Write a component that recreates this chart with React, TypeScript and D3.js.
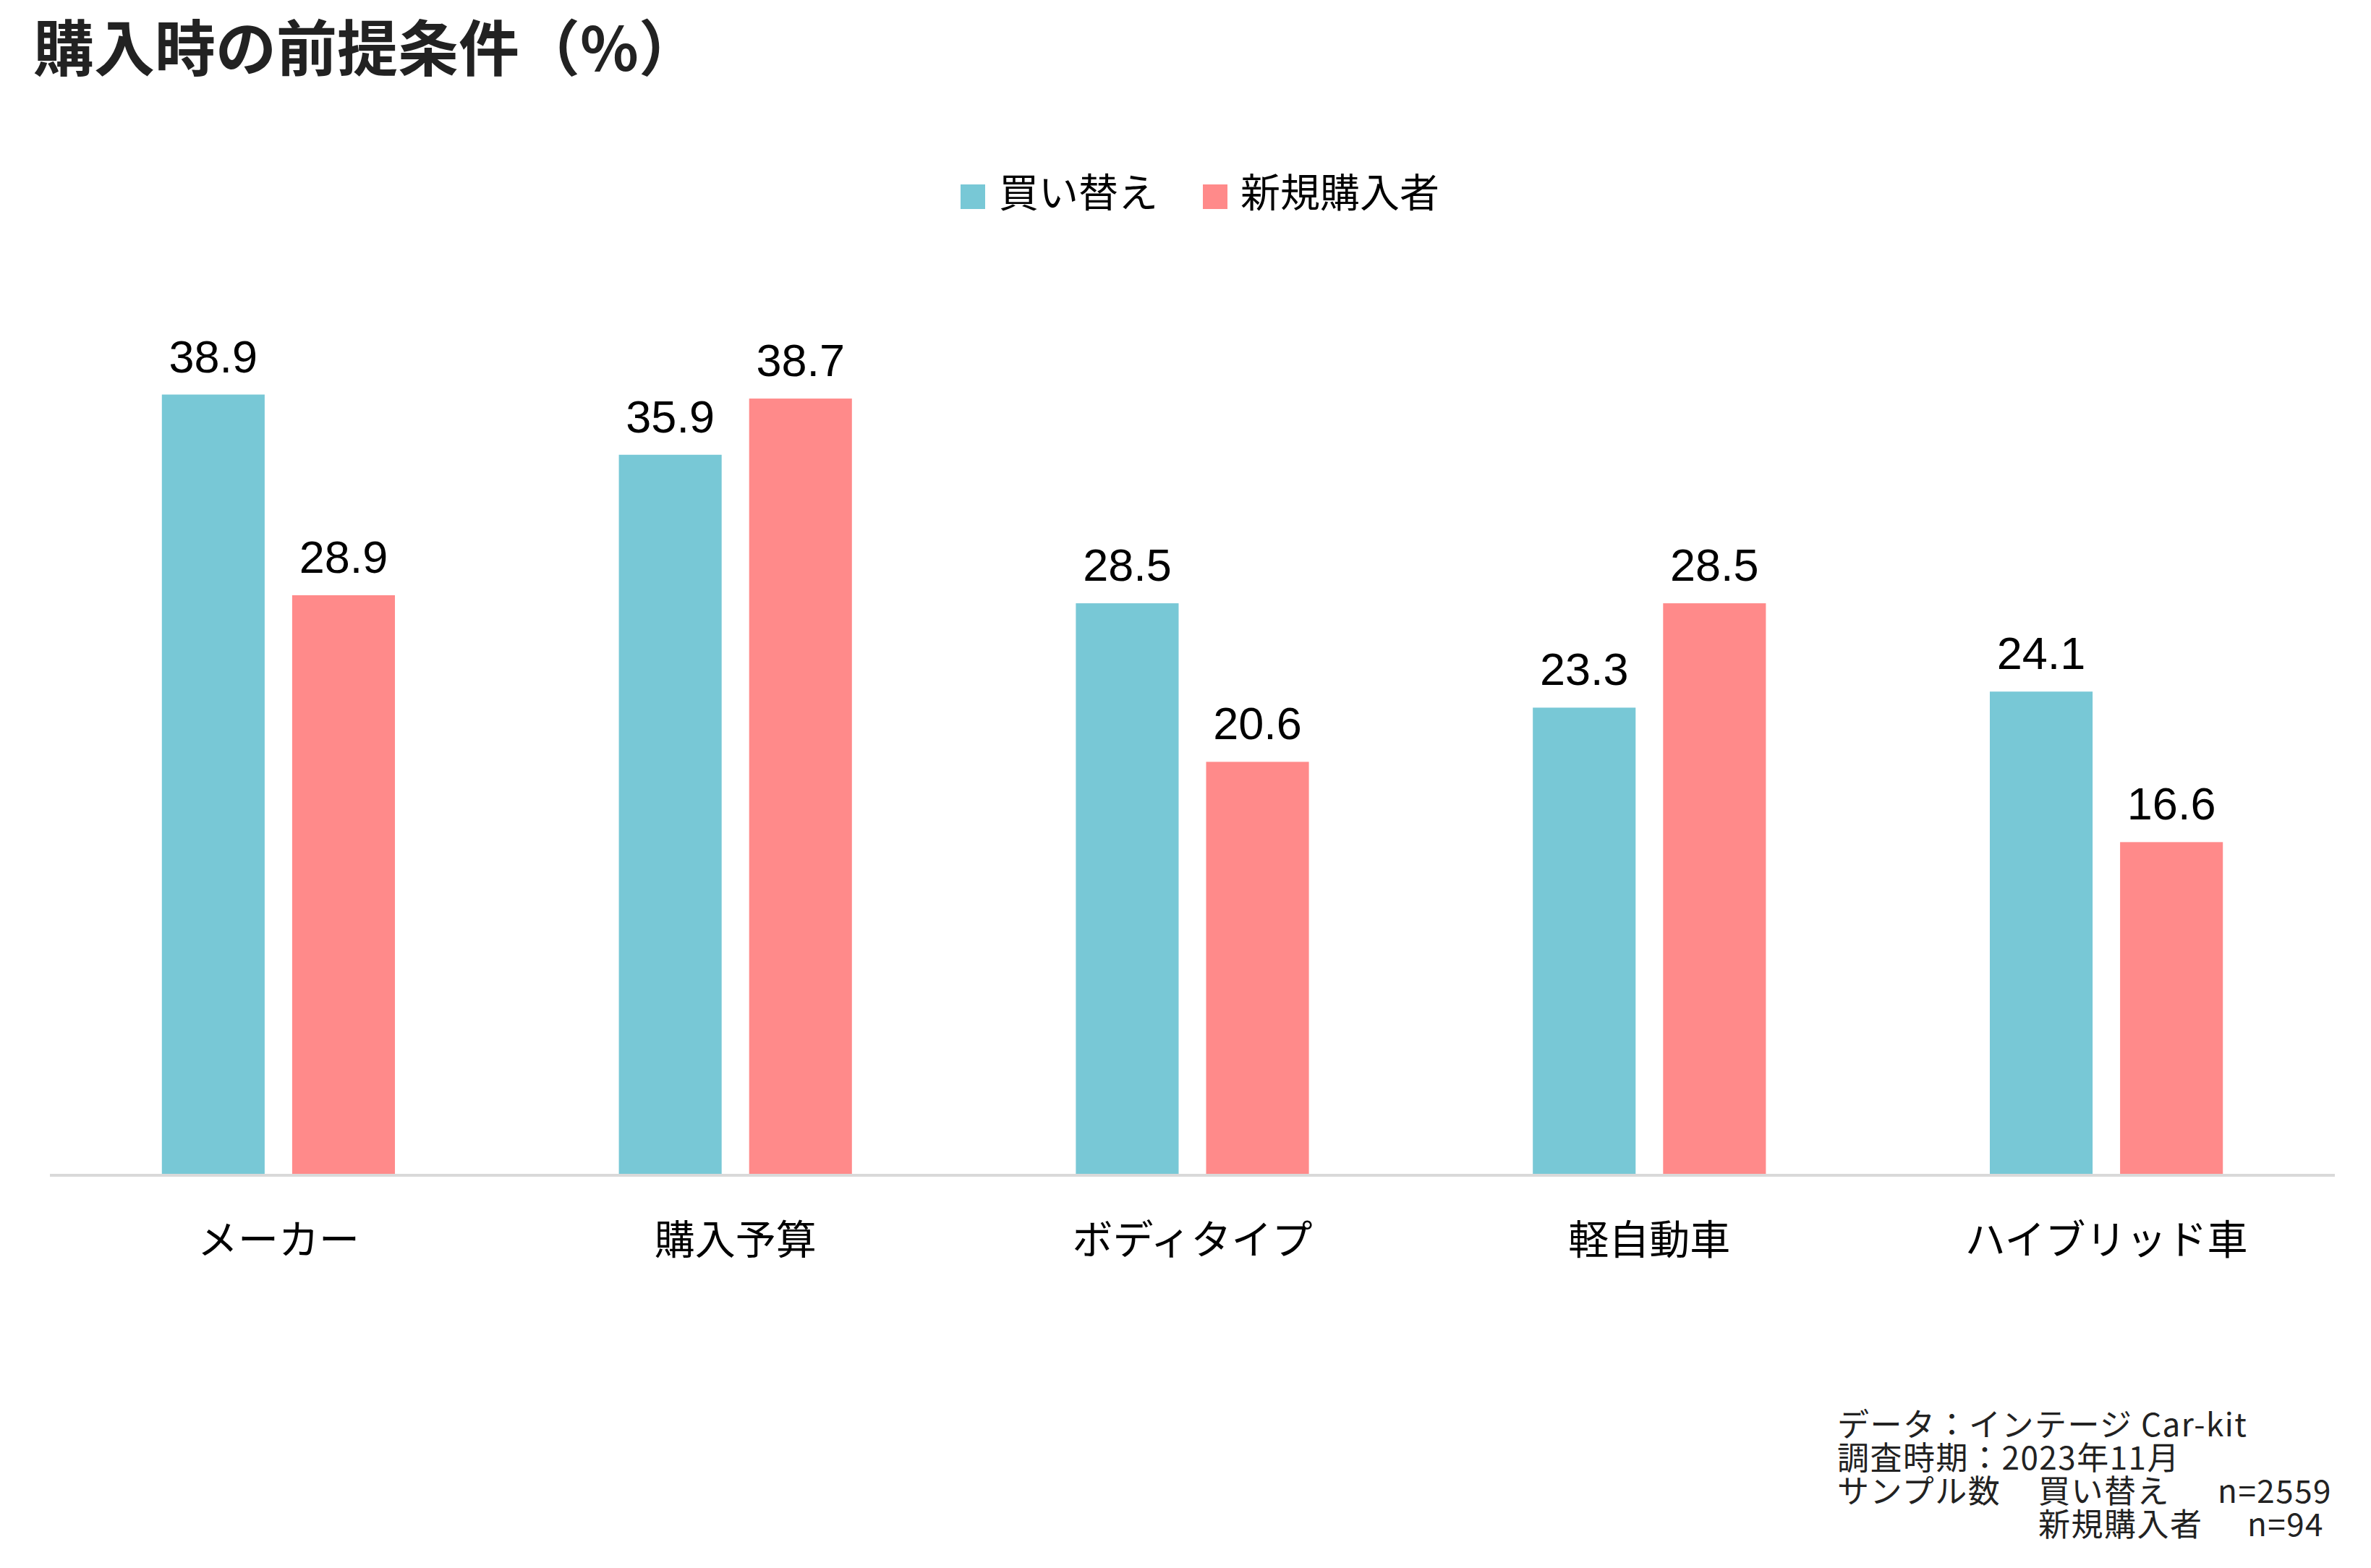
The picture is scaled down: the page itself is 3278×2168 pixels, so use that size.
import * as d3 from 'd3';
import { useEffect } from 'react';

const categories = ['メーカー', '購入予算', 'ボディタイプ', '軽自動車', 'ハイブリッド車'];
const seriesNames = ['買い替え', '新規購入者'];
const kaikae = [38.9, 35.9, 28.5, 23.3, 24.1];
const shinki = [28.9, 38.7, 20.6, 28.5, 16.6];
const colors = ['#78C8D6', '#FF8A8A'];

const title = '購入時の前提条件（%）';
const notes = ['データ：インテージ Car-kit', '調査時期：2023年11月'];
const sampleLabel = 'サンプル数';
const sampleSizes = ['n=2559', 'n=94'];

const width = 3278;
const height = 2168;
const axisY = 1625;
const jpFont = '"Noto Sans CJK JP", "Noto Sans", sans-serif';
const numFont = '"Liberation Sans", Arial, sans-serif';

const x0 = d3.scaleBand<string>()
    .domain(categories)
    .range([69, 3228])
    .paddingInner(0.49)
    .paddingOuter(0.245);

const x1 = d3.scaleBand<string>()
    .domain(seriesNames)
    .range([0, x0.bandwidth()])
    .paddingInner(0.211);

const y = d3.scaleLinear()
    .domain([0, 40])
    .range([axisY, axisY - 40 * 27.75]);

const App = () => {
    useEffect(() => {
        document.body.style.margin = '0';
    }, []);

    const series = [kaikae, shinki];

    return (
        <svg width={width} height={height} style={{ display: 'block', background: '#fff' }}>
            {/* title */}
            <text x={46} y={98} fontFamily={jpFont} fontWeight={700} fontSize={84} fill="#222">{title}</text>

            {/* legend */}
            <g fontFamily={jpFont} fontSize={55} fill="#000">
                <rect x={1328} y={255} width={34} height={34} fill={colors[0]} />
                <text x={1381} y={286}>{seriesNames[0]}</text>
                <rect x={1663} y={255} width={34} height={34} fill={colors[1]} />
                <text x={1715} y={286}>{seriesNames[1]}</text>
            </g>

            {/* bars */}
            {categories.map((c, i) => (
                <g key={c} transform={`translate(${x0(c)},0)`}>
                    {series.map((vals, s) => (
                        <g key={s}>
                            <rect
                                x={x1(seriesNames[s])}
                                y={y(vals[i])}
                                width={x1.bandwidth()}
                                height={axisY - y(vals[i])}
                                fill={colors[s]}
                            />
                            <text
                                x={(x1(seriesNames[s]) as number) + x1.bandwidth() / 2}
                                y={y(vals[i]) - 31}
                                textAnchor="middle"
                                fontFamily={numFont}
                                fontSize={63}
                                fill="#000"
                            >
                                {vals[i].toFixed(1)}
                            </text>
                        </g>
                    ))}
                </g>
            ))}

            {/* axis line */}
            <line x1={69} x2={3228} y1={axisY} y2={axisY} stroke="#d9d9d9" strokeWidth={4} />

            {/* category labels */}
            {categories.map(c => (
                <text
                    key={c}
                    x={(x0(c) as number) + x0.bandwidth() / 2}
                    y={1734}
                    textAnchor="middle"
                    fontFamily={jpFont}
                    fontSize={56}
                    fill="#000"
                >
                    {c}
                </text>
            ))}

            {/* footnote */}
            <g fontFamily={jpFont} fontSize={44} letterSpacing={1.5} fill="#222">
                <text x={2540} y={1986}>{notes[0]}</text>
                <text x={2540} y={2032}>{notes[1]}</text>
                <text x={2540} y={2078}>{sampleLabel}</text>
                <text x={2818} y={2078}>{seriesNames[0]}</text>
                <text x={3224} y={2078} textAnchor="end">{sampleSizes[0]}</text>
                <text x={2818} y={2124}>{seriesNames[1]}</text>
                <text x={3213} y={2124} textAnchor="end">{sampleSizes[1]}</text>
            </g>
        </svg>
    );
};

export default App;
